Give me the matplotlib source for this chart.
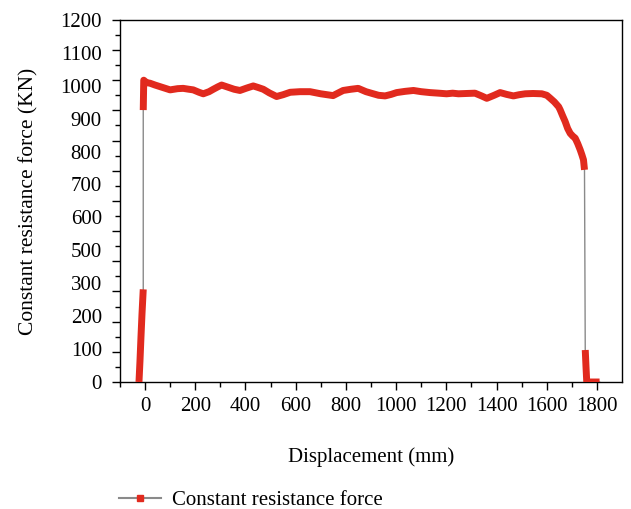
import matplotlib.pyplot as plt
import numpy as np
from matplotlib.lines import Line2D

# displacement (mm) and constant resistance force (KN)
displacement = [-24, -20, -16, -12, -7, -7, -5, 6, 20, 40, 70, 100, 130, 152, 175, 192,
                215, 232, 255, 272, 290, 305, 330, 355, 378, 405, 431, 450, 471, 495,
                524, 550, 578, 617, 657, 700, 749, 770, 789, 820, 849, 880, 909, 930,
                956, 980, 1002, 1035, 1069, 1100, 1135, 1170, 1201, 1225, 1248, 1280,
                1314, 1340, 1361, 1390, 1414, 1440, 1467, 1490, 1514, 1545, 1580, 1600,
                1614, 1630, 1647, 1653, 1663, 1673, 1683, 1693, 1703, 1713, 1723, 1733,
                1740, 1746, 1750, 1753, 1756, 1759, 1780, 1810]
force = [0, 70, 150, 225, 307, 901, 1000, 992, 990, 984, 976, 968, 972, 973, 970, 968,
         960, 955, 962, 970, 978, 984, 977, 970, 966, 974, 981, 976, 970, 958,
         946, 952, 960, 962, 962, 955, 949, 958, 966, 970, 973, 962, 955, 950,
         948, 953, 959, 963, 966, 962, 959, 957, 955, 957, 955, 956,
         957, 948, 940, 950, 959, 953, 948, 952, 955, 956, 955, 950,
         940, 928, 912, 902, 882, 863, 840, 824, 815, 808, 790, 769,
         752, 736, 703, 106, 50, 0, 0, 0]

xticks = [0, 200, 400, 600, 800, 1000, 1200, 1400, 1600, 1800]
ytick_labels = ['0', '100', '200', '300', '500', '600', '700', '800', '900',
                '1000', '1100', '1200']

series_label = 'Constant resistance force'
red = '#e12a1e'
grey = '#8a8a8a'
fs = 15

plt.rcParams['font.family'] = ['Liberation Serif', 'DejaVu Serif']

fig = plt.figure(figsize=(6.31, 5.09), dpi=100)
ax = fig.add_axes([0.190, 0.2495, 0.796, 0.7115])

x = np.array(displacement, dtype=float)
y = np.array(force, dtype=float)

# thin grey line through every point, thick red where the samples are dense
ax.plot(x, y, color=grey, lw=1.0, zorder=2)
breaks = np.where(np.abs(np.diff(y)) > 400)[0] + 1
for xs, ys in zip(np.split(x, breaks), np.split(y, breaks)):
    ax.plot(xs, ys, color=red, lw=5, solid_joinstyle='round',
            solid_capstyle='butt', zorder=3)

ax.set_xlim(-100, 1900)
ax.set_ylim(0, 1200)

ax.set_xticks(xticks)
ax.set_xticks(np.arange(-100, 1900, 100), minor=True)
ax.set_yticks(np.arange(0, 1201, 100))
ax.set_yticks(np.arange(0, 1201, 50), minor=True)
ax.set_yticklabels([])
ax.tick_params(axis='both', which='major', direction='out', length=6, width=1,
               labelsize=fs)
ax.tick_params(axis='both', which='minor', direction='out', length=3.5, width=1)
ax.tick_params(axis='x', pad=5)
for s in ax.spines.values():
    s.set_linewidth(1)

# y labels as printed in the source: evenly spread, 400 missing
sec = ax.secondary_yaxis('left')
sec.set_yticks(np.linspace(0, 1200, len(ytick_labels)))
sec.set_yticklabels(ytick_labels)
sec.tick_params(length=0, pad=13, labelsize=fs)
sec.spines['left'].set_visible(False)
sec.set_ylabel('Constant resistance force (KN)', fontsize=fs + 0.5, labelpad=16)

ax.set_xlabel('Displacement (mm)', fontsize=fs, labelpad=22)

handle = Line2D([], [], color=grey, lw=1.5, marker='s', markersize=4,
                markerfacecolor=red, markeredgecolor=red)
fig.legend([handle], [series_label], loc='center left',
           bbox_to_anchor=(119 / 631, 1 - 500 / 509), frameon=False,
           fontsize=fs, handlelength=2.0, handletextpad=0.55, borderpad=0,
           borderaxespad=0)

fig.savefig('out.png', dpi=100)
